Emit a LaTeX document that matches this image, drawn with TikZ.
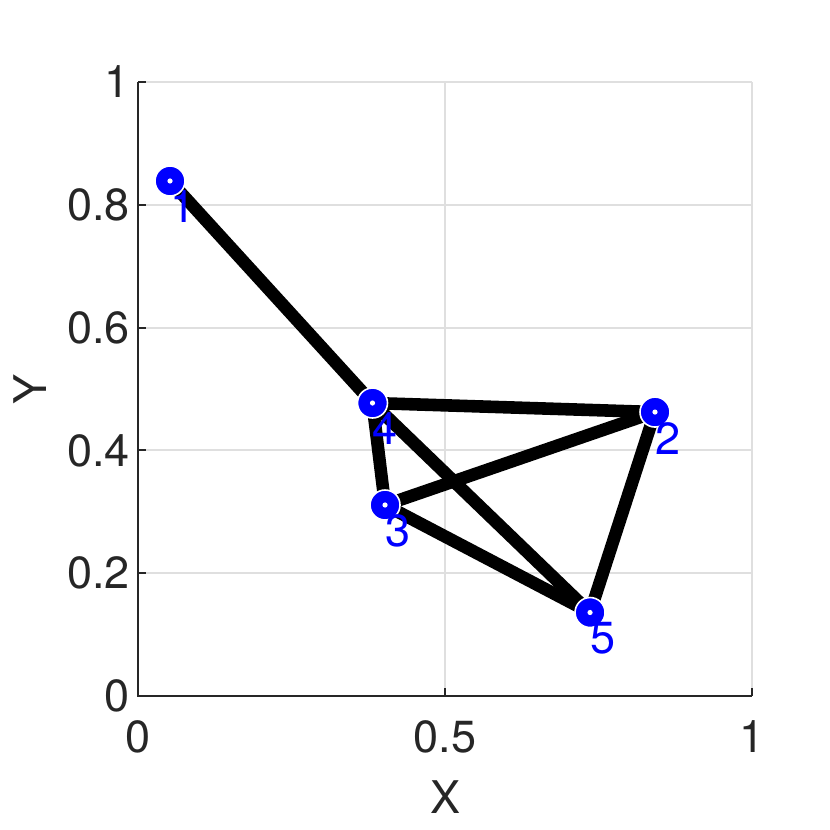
\documentclass[tikz,border=0pt]{standalone}
\usepackage{fontspec}
\setmainfont{TeX Gyre Heros}

\definecolor{axgray}{RGB}{38,38,38}
\definecolor{gridgray}{RGB}{223,223,223}

\tikzset{
  plotfont/.style={font=\fontsize{22.5pt}{27pt}\selectfont},
  gridline/.style={draw=gridgray,line width=1pt},
  axisline/.style={draw=axgray,line width=1pt},
  ticklbl/.style={plotfont,text=axgray,inner sep=0pt},
  edge/.style={draw=black,line width=6.3pt},
  vert/.style={circle,fill=blue,draw=white,line width=0.8pt,minimum size=15pt,inner sep=0pt,
    path picture={\fill[white] (path picture bounding box.center) circle (1.3pt);}},
  vlbl/.style={plotfont,text=blue,anchor=west,inner sep=0pt,outer sep=0pt}
}

\begin{document}
\begin{tikzpicture}[x=307pt,y=307pt]
\useasboundingbox (-0.2248,-0.2182) rectangle (1.1270,1.1336);
% grid
\draw[gridline] (0.5,0) -- (0.5,1);
\draw[gridline] (1,0) -- (1,1);
\draw[gridline] (0,0.2) -- (1,0.2);
\draw[gridline] (0,0.4) -- (1,0.4);
\draw[gridline] (0,0.6) -- (1,0.6);
\draw[gridline] (0,0.8) -- (1,0.8);
\draw[gridline] (0,1) -- (1,1);
% axes
\draw[axisline] (0,1) -- (0,0) -- (1,0);
\draw[axisline] (0.5,0) -- ++(0,4pt);
\draw[axisline] (1,0) -- ++(0,4pt);
\draw[axisline] (0,0.2) -- ++(4pt,0);
\draw[axisline] (0,0.4) -- ++(4pt,0);
\draw[axisline] (0,0.6) -- ++(4pt,0);
\draw[axisline] (0,0.8) -- ++(4pt,0);
\draw[axisline] (0,1) -- ++(4pt,0);
\node[ticklbl] (xt0) at (0,-0.0668) {0};
\node[ticklbl] (xt1) at (0.5,-0.0668) {0.5};
\node[ticklbl] (xt2) at (1,-0.0668) {1};
\node[ticklbl,anchor=east] (yt0) at (-0.013,0) {0};
\node[ticklbl,anchor=east] (yt1) at (-0.013,0.2) {0.2};
\node[ticklbl,anchor=east] (yt2) at (-0.013,0.4) {0.4};
\node[ticklbl,anchor=east] (yt3) at (-0.013,0.6) {0.6};
\node[ticklbl,anchor=east] (yt4) at (-0.013,0.8) {0.8};
\node[ticklbl,anchor=east] (yt5) at (-0.013,1) {1};
\node[ticklbl] (xlab) at (0.5,-0.1645) {X};
\node[ticklbl,rotate=90] (ylab) at (-0.1759,0.5) {Y};
% graph
\coordinate (p1) at (0.0521,0.8388);
\coordinate (p2) at (0.8420,0.4625);
\coordinate (p3) at (0.4023,0.3111);
\coordinate (p4) at (0.3819,0.4772);
\coordinate (p5) at (0.7362,0.1360);
\draw[edge] (p1) -- (p4);
\draw[edge] (p4) -- (p2);
\draw[edge] (p4) -- (p3);
\draw[edge] (p4) -- (p5);
\draw[edge] (p3) -- (p2);
\draw[edge] (p3) -- (p5);
\draw[edge] (p2) -- (p5);
\node[vert] (v1) at (p1) {};
\node[vert] (v2) at (p2) {};
\node[vert] (v3) at (p3) {};
\node[vert] (v4) at (p4) {};
\node[vert] (v5) at (p5) {};
\node[vlbl] (l1) at ([yshift=-13pt]p1) {1};
\node[vlbl] (l2) at ([yshift=-13pt]p2) {2};
\node[vlbl] (l3) at ([yshift=-13pt]p3) {3};
\node[vlbl] (l4) at ([yshift=-13pt]p4) {4};
\node[vlbl] (l5) at ([yshift=-13pt]p5) {5};
\end{tikzpicture}
\end{document}
